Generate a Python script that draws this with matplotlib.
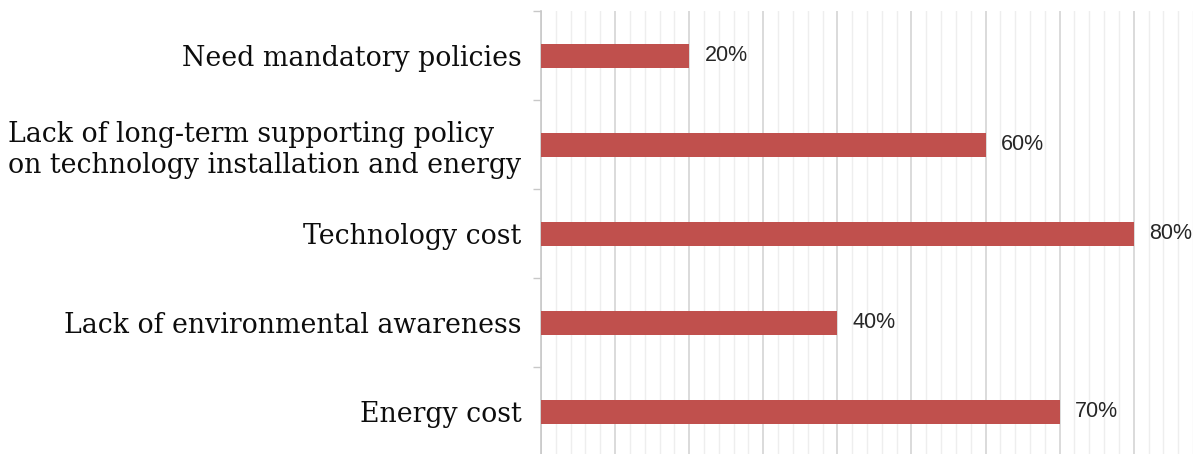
"""Horizontal bar chart of reported barriers (share of respondents)."""

import matplotlib.pyplot as plt
from matplotlib.ticker import MultipleLocator, FixedLocator

categories = [
    "Need mandatory policies",
    "Lack of long-term supporting policy\non technology installation and energy",
    "Technology cost",
    "Lack of environmental awareness",
    "Energy cost",
]
shares = [20, 60, 80, 40, 70]
value_labels = ["20%", "60%", "80%", "40%", "70%"]

BAR_COLOR = "#C0504D"
GRID_MAJOR = "#d4d4d4"
GRID_MINOR = "#eeeeee"

fig = plt.figure(figsize=(11.93, 4.54), dpi=100)
ax = fig.add_axes([0.4535, -0.005, 0.5465, 0.98])

ypos = list(range(len(categories)))
ax.barh(ypos, shares, height=0.27, color=BAR_COLOR, zorder=3)
for y, v, txt in zip(ypos, shares, value_labels):
    ax.text(v + 2.1, y, txt, va="center", ha="left", fontsize=15.5,
            family=["Liberation Sans Narrow", "Liberation Sans"],
            color="#262626", zorder=4)

ax.set_xlim(0, 88)
ax.set_ylim(len(categories) - 0.5, -0.5)

ax.set_yticks(ypos)
ax.set_yticklabels(categories, family="DejaVu Serif", fontsize=19.3, color="#0d0d0d")
for lab in ax.get_yticklabels():
    lab.set_multialignment("left")
ax.tick_params(axis="y", which="major", length=0, pad=14)
ax.yaxis.set_minor_locator(FixedLocator([i - 0.5 for i in range(len(categories) + 1)]))
ax.tick_params(axis="y", which="minor", length=6, color="#c8c8c8", width=1)

ax.xaxis.set_major_locator(MultipleLocator(10))
ax.xaxis.set_minor_locator(MultipleLocator(2))
ax.grid(axis="x", which="major", color=GRID_MAJOR, linewidth=1.2, zorder=0)
ax.grid(axis="x", which="minor", color=GRID_MINOR, linewidth=1.0, zorder=0)
ax.tick_params(axis="x", which="both", length=0, labelbottom=False)

for side in ("top", "right", "bottom"):
    ax.spines[side].set_visible(False)
ax.spines["left"].set_color("#c8c8c8")
ax.spines["left"].set_linewidth(1.2)

fig.savefig("out.png", dpi=100, facecolor="white")
